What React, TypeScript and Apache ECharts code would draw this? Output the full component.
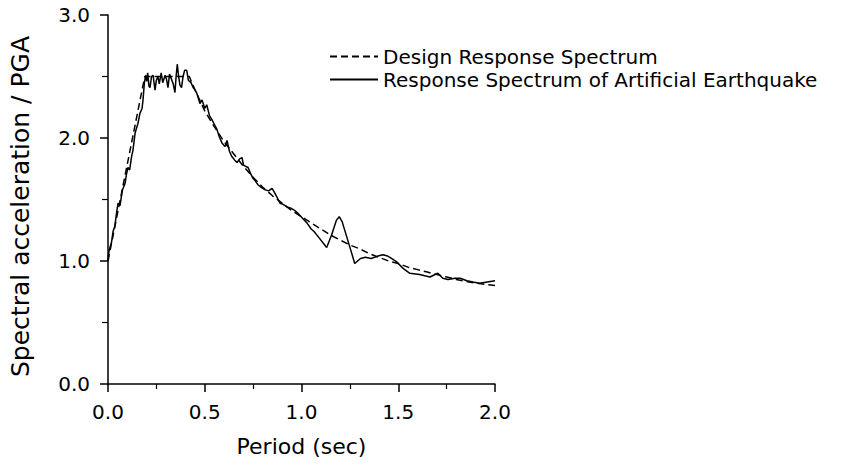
import React, { useEffect, useRef } from "react";
import * as echarts from "echarts";

const designPeriods = [
  0, 0.19, 0.42, 0.45, 0.5, 0.55, 0.6, 0.65, 0.7, 0.75, 0.8, 0.85, 0.9, 0.95, 1.0, 1.05, 1.1, 1.15, 1.2, 1.25,
  1.3, 1.35, 1.4, 1.45, 1.5, 1.55, 1.6, 1.65, 1.7, 1.75, 1.8, 1.85, 1.9, 1.95, 2.0,
];
const designValues = [
  1.0, 2.5, 2.5, 2.39, 2.22, 2.09, 1.97, 1.87, 1.77, 1.68, 1.6, 1.53, 1.47, 1.41, 1.36, 1.31, 1.26, 1.21, 1.17, 1.13,
  1.1, 1.06, 1.03, 1.0, 0.98, 0.95, 0.93, 0.91, 0.89, 0.87, 0.85, 0.835, 0.82, 0.81, 0.8,
];

const quakePeriods = [
  0, 0.005, 0.01, 0.018, 0.026, 0.035, 0.045, 0.052, 0.062, 0.075, 0.088, 0.095, 0.103, 0.112, 0.122, 0.129,
  0.14, 0.155, 0.165, 0.176, 0.181, 0.188, 0.195, 0.2, 0.205, 0.212, 0.217, 0.225, 0.233, 0.243, 0.25, 0.258,
  0.265, 0.275, 0.283, 0.295, 0.302, 0.31, 0.318, 0.33, 0.337, 0.346, 0.352, 0.358, 0.365, 0.372, 0.38, 0.388,
  0.396, 0.407, 0.415, 0.429, 0.44, 0.45, 0.46, 0.475, 0.486, 0.5, 0.51, 0.525, 0.537, 0.55, 0.563, 0.575,
  0.589, 0.605, 0.615, 0.628, 0.64, 0.655, 0.667, 0.68, 0.693, 0.7, 0.712, 0.724, 0.737, 0.75, 0.762, 0.775,
  0.79, 0.81, 0.83, 0.848, 0.863, 0.876, 0.889, 0.905, 0.925, 0.945, 0.966, 0.98, 0.992, 1.01, 1.028, 1.05,
  1.065, 1.09, 1.13, 1.155, 1.18, 1.195, 1.21, 1.235, 1.26, 1.275, 1.305, 1.33, 1.36, 1.395, 1.42, 1.445,
  1.457, 1.494, 1.525, 1.56, 1.61, 1.664, 1.69, 1.705, 1.73, 1.757, 1.793, 1.82, 1.855, 1.886, 1.92, 1.96, 2.0,
];
const quakeValues = [
  1.0, 1.08, 1.11, 1.15, 1.24, 1.28, 1.4, 1.47, 1.45, 1.58, 1.63, 1.7, 1.76, 1.74, 1.85, 1.9,
  2.04, 2.12, 2.2, 2.24, 2.31, 2.45, 2.51, 2.46, 2.53, 2.42, 2.41, 2.5, 2.51, 2.39, 2.47, 2.5,
  2.44, 2.53, 2.45, 2.51, 2.48, 2.41, 2.52, 2.47, 2.44, 2.37, 2.5, 2.6, 2.5, 2.43, 2.41, 2.5,
  2.55, 2.55, 2.47, 2.45, 2.41, 2.39, 2.36, 2.28, 2.31, 2.24, 2.27, 2.18, 2.15, 2.11, 2.07, 2.01,
  1.96, 1.93, 1.98, 1.89, 1.85, 1.82, 1.8, 1.83, 1.84, 1.78, 1.77, 1.76, 1.71, 1.67, 1.65, 1.62,
  1.6, 1.58, 1.57, 1.59, 1.55, 1.51, 1.47, 1.46, 1.44, 1.43, 1.41, 1.39, 1.37, 1.34, 1.31, 1.26,
  1.24, 1.19, 1.11, 1.21, 1.33, 1.36, 1.32, 1.19, 1.06, 0.98, 1.02, 1.03, 1.02, 1.04, 1.05, 1.04,
  1.03, 0.99, 0.94, 0.9, 0.89, 0.87, 0.89, 0.9, 0.86, 0.85, 0.86, 0.86, 0.84, 0.83, 0.82, 0.83, 0.84,
];

const seriesNames = ["Design Response Spectrum", "Response Spectrum of Artificial Earthquake"];
const xAxisTitle = "Period (sec)";
const yAxisTitle = "Spectral acceleration / PGA";

const FONT = "DejaVu Sans";

export default function App() {
  const ref = useRef<HTMLDivElement>(null);
  useEffect(() => {
    if (!ref.current) return;
    const chart = echarts.init(ref.current, undefined, { renderer: "svg" });
    const zip = (xs: number[], ys: number[]) => xs.map((x, i) => [x, ys[i]]);
    chart.setOption({
      animation: false,
      backgroundColor: "#ffffff",
      grid: { left: 108, right: 369, top: 15, bottom: 81, containLabel: false },
      legend: {
        left: 324,
        top: 40,
        orient: "vertical",
        itemWidth: 48,
        itemHeight: 12,
        itemGap: 0,
        itemStyle: { color: "transparent", borderColor: "transparent", borderWidth: 0 },
        textStyle: { fontFamily: FONT, fontSize: 20, color: "#000", lineHeight: 23 },
        data: seriesNames,
      },
      xAxis: {
        type: "value",
        min: 0,
        max: 2,
        interval: 0.5,
        name: xAxisTitle,
        nameLocation: "middle",
        nameGap: 51,
        nameTextStyle: { fontFamily: FONT, fontSize: 22, color: "#000" },
        axisLine: { show: true, lineStyle: { color: "#000", width: 1.5 } },
        axisTick: { show: true, length: 8, lineStyle: { color: "#000", width: 1.5 } },
        minorTick: { show: true, splitNumber: 2, length: 5, lineStyle: { color: "#000", width: 1.2 } },
        splitLine: { show: false },
        axisLabel: {
          fontFamily: FONT,
          fontSize: 20,
          color: "#000",
          margin: 18,
          formatter: (v: number) => v.toFixed(1),
        },
      },
      yAxis: {
        type: "value",
        min: 0,
        max: 3,
        interval: 1,
        name: yAxisTitle,
        nameLocation: "middle",
        nameGap: 75,
        nameTextStyle: { fontFamily: FONT, fontSize: 25, color: "#000", padding: [0, 14, 0, 0] },
        axisLine: { show: true, lineStyle: { color: "#000", width: 1.5 } },
        axisTick: { show: true, length: 8, lineStyle: { color: "#000", width: 1.5 } },
        minorTick: { show: true, splitNumber: 2, length: 6, lineStyle: { color: "#000", width: 1.2 } },
        splitLine: { show: false },
        axisLabel: {
          fontFamily: FONT,
          fontSize: 20,
          color: "#000",
          margin: 18,
          formatter: (v: number) => v.toFixed(1),
        },
      },
      series: [
        {
          name: seriesNames[0],
          type: "line",
          data: zip(designPeriods, designValues),
          showSymbol: false,
          symbol: "none",
          lineStyle: { color: "#000", width: 1.5, type: [7, 4] },
          itemStyle: { color: "#000" },
        },
        {
          name: seriesNames[1],
          type: "line",
          data: zip(quakePeriods, quakeValues),
          showSymbol: false,
          symbol: "none",
          lineStyle: { color: "#000", width: 1.5, type: "solid" },
          itemStyle: { color: "#000" },
        },
      ],
    });
    return () => chart.dispose();
  }, []);
  return <div ref={ref} style={{ width: 864, height: 465, position: "absolute", left: 0, top: 0 }} />;
}
